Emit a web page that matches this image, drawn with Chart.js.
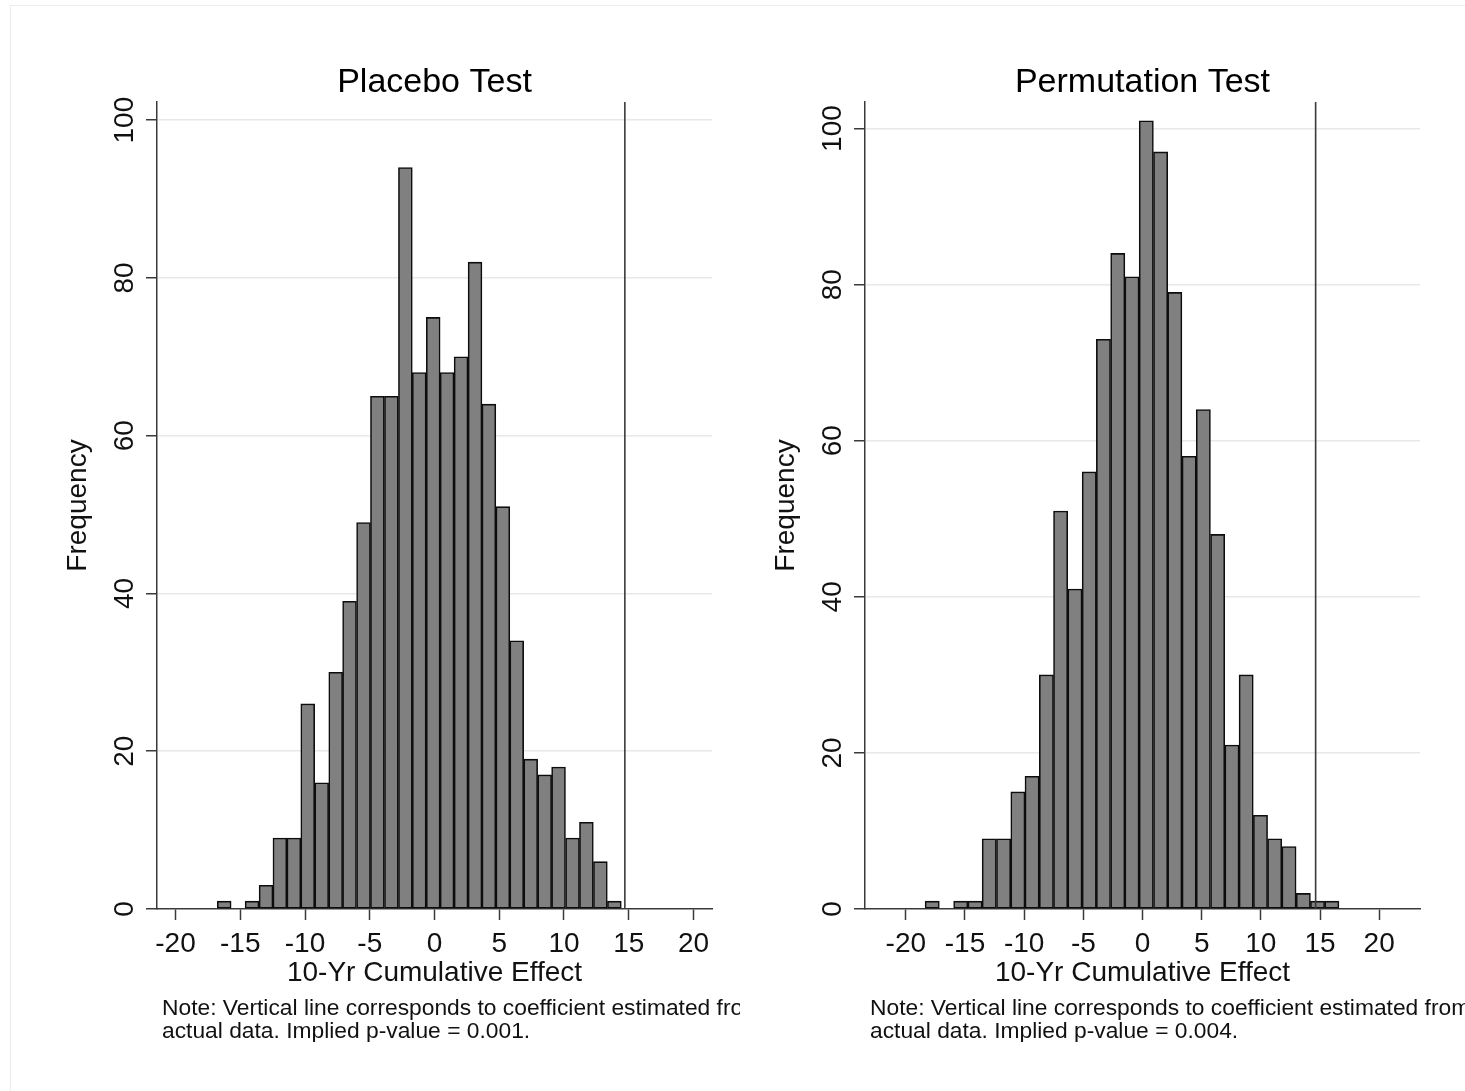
<!DOCTYPE html>
<html><head><meta charset="utf-8">
<script src="https://cdn.jsdelivr.net/npm/chart.js@4.4.1/dist/chart.umd.min.js"></script>
<style>
html,body{margin:0;padding:0;background:#fff;}
body{width:1465px;height:1091px;position:relative;overflow:hidden;font-family:'Liberation Sans',Arial,sans-serif;}
#frame{position:absolute;left:10px;top:5px;width:1460px;height:1090px;border-left:1px solid #ececec;border-top:1px solid #ececec;}
canvas{position:absolute;}
.note{position:absolute;font-size:22.8px;line-height:23px;white-space:nowrap;overflow:hidden;color:#111;}
</style></head>
<body>
<div id="frame"></div>
<canvas id="c1" width="700" height="960" style="left:40px;top:40px"></canvas>
<canvas id="c2" width="700" height="960" style="left:748px;top:40px"></canvas>
<div class="note" style="left:162px;top:996px;width:578px">Note: Vertical line corresponds to coefficient estimated from<br>actual data. Implied p-value = 0.001.</div>
<div class="note" style="left:870px;top:996px;width:595px">Note: Vertical line corresponds to coefficient estimated from<br>actual data. Implied p-value = 0.004.</div>
<script>
// ---------- data ----------
const placeboTitle = 'Placebo Test';
const permTitle = 'Permutation Test';
const xAxisTitle = '10-Yr Cumulative Effect';
const yAxisTitle = 'Frequency';

const placeboBinCenters = [-16.24,-15.17,-14.09,-13.01,-11.94,-10.86,-9.79,-8.71,-7.63,-6.56,-5.48,-4.41,-3.33,-2.25,-1.18,-0.10,0.97,2.05,3.13,4.20,5.28,6.35,7.43,8.51,9.58,10.66,11.73,12.81,13.89];
const placeboCounts     = [1,0,1,3,9,9,26,16,30,39,49,65,65,94,68,75,68,70,82,64,51,34,19,17,18,9,11,6,1];
const placeboActual = 14.7;

const permBinCenters = [-17.77,-16.56,-15.36,-14.15,-12.95,-11.74,-10.53,-9.33,-8.12,-6.92,-5.71,-4.50,-3.30,-2.09,-0.89,0.32,1.53,2.73,3.94,5.14,6.35,7.56,8.76,9.97,11.17,12.38,13.59,14.79,16.00];
const permCounts     = [1,0,1,1,9,9,15,17,30,51,41,56,73,84,81,101,97,79,58,64,48,21,30,12,9,8,2,1,1];
const permActual = 14.63;

const xTickValues = [-20,-15,-10,-5,0,5,10,15,20];
const yTickValues = [0,20,40,60,80,100];

// ---------- chart construction ----------
const FONT = "'Liberation Sans', Arial, sans-serif";
const AXIS = '#3a3a3a';

const refLine = {
  id: 'refLine',
  afterDatasetsDraw(chart, args, opts) {
    const {ctx, chartArea, scales} = chart;
    const px = scales.x.getPixelForValue(opts.value);
    ctx.save();
    ctx.strokeStyle = opts.color;
    ctx.lineWidth = opts.width;
    ctx.beginPath();
    ctx.moveTo(px, chartArea.top);
    ctx.lineTo(px, chartArea.bottom);
    ctx.stroke();
    ctx.restore();
  }
};

function makeChart(id, title, centers, counts, actual, xRange, yMax) {
  const data = centers.map((c, i) => ({x: c, y: counts[i]}));
  return new Chart(document.getElementById(id), {
    type: 'bar',
    data: { datasets: [{
      data,
      backgroundColor: '#808080',
      borderColor: '#0d0d0d',
      borderWidth: 1.6,
      borderSkipped: false,
      barPercentage: 1,
      categoryPercentage: 1
    }]},
    plugins: [refLine],
    options: {
      responsive: false,
      animation: false,
      devicePixelRatio: 1,
      layout: { padding: { left: 0, right: 28, top: 0, bottom: 0 } },
      plugins: {
        legend: { display: false },
        tooltip: { enabled: false },
        title: {
          display: true, text: title, color: '#000', fullSize: false,
          font: { family: FONT, size: 34, weight: 'normal', lineHeight: 1 },
          padding: { top: 25.5, bottom: 2.5 }
        },
        refLine: { value: actual, color: '#3a3a3a', width: 1.6 }
      },
      scales: {
        x: {
          type: 'linear', min: -xRange, max: xRange, offset: false,
          afterBuildTicks: s => { s.ticks = xTickValues.map(v => ({value: v})); },
          afterFit: s => { s.height = 91; },
          grid: { display: true, drawOnChartArea: false, drawTicks: true, tickLength: 11, tickColor: AXIS, tickWidth: 1.5, offset: false },
          border: { display: true, color: AXIS, width: 1.5 },
          ticks: { color: '#111', font: { family: FONT, size: 28, lineHeight: 1 }, padding: 10, maxRotation: 0, autoSkip: false },
          title: { display: true, text: xAxisTitle, color: '#111', font: { family: FONT, size: 28, lineHeight: 1 }, padding: { top: 0, bottom: 13 } }
        },
        y: {
          type: 'linear', min: 0, max: yMax,
          afterBuildTicks: s => { s.ticks = yTickValues.map(v => ({value: v})); },
          afterFit: s => { s.width = 117; },
          grid: { display: true, drawOnChartArea: true, drawTicks: true, tickLength: 11,
                  color: c => (c.tick && c.tick.value === 0) ? 'rgba(0,0,0,0)' : '#e8e8e8',
                  lineWidth: 1.5, tickColor: AXIS, tickWidth: 1.5 },
          border: { display: true, color: AXIS, width: 1.5 },
          ticks: { color: '#111', font: { family: FONT, size: 28, lineHeight: 1 }, padding: -2.5, minRotation: 90, maxRotation: 90, crossAlign: 'center', autoSkip: false },
          title: { display: true, text: yAxisTitle, color: '#111', font: { family: FONT, size: 28, lineHeight: 1 }, padding: { top: 24, bottom: 0 } }
        }
      }
    }
  });
}

makeChart('c1', placeboTitle, placeboBinCenters, placeboCounts, placeboActual, 21.43, 102.3);
makeChart('c2', permTitle, permBinCenters, permCounts, permActual, 23.45, 103.4);
</script>
</body></html>
